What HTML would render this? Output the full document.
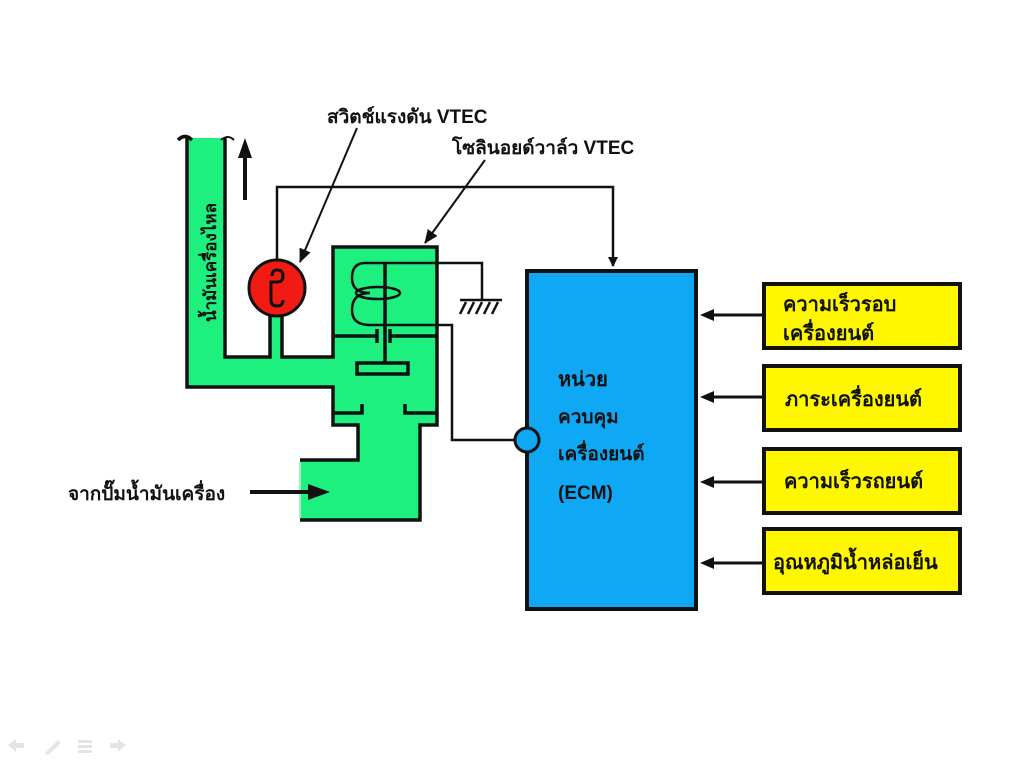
<!DOCTYPE html>
<html><head><meta charset="utf-8"><style>
html,body{margin:0;padding:0;background:#fff;}
svg{display:block;}
text{font-family:"Liberation Sans","DejaVu Sans",sans-serif;fill:#111;font-weight:bold;}
</style></head><body>
<svg width="1024" height="768" viewBox="0 0 1024 768" xmlns="http://www.w3.org/2000/svg">
<defs>
<marker id="ah" markerWidth="10" markerHeight="10" refX="9" refY="5" orient="auto" markerUnits="userSpaceOnUse"><path d="M0,0 L10,5 L0,10 z" fill="#111"/></marker>
<marker id="ah2" markerWidth="14" markerHeight="12" refX="13" refY="6" orient="auto" markerUnits="userSpaceOnUse"><path d="M0,0 L14,6 L0,12 z" fill="#111"/></marker>
</defs>
<path d="M187,138 L225,138 L225,357 L333,357 L333,247 L437,247 L437,425 L420,425 L420,520 L300,520 L300,460 L358,460 L358,425 L333,425 L333,387 L187,387 Z" fill="#1ef07f"/>
<rect x="270" y="300" width="12" height="60" fill="#1ef07f"/>
<g fill="none" stroke="#111" stroke-width="3.5">
<path d="M187,138 L187,387 L333,387 L333,425 L358,425 L358,460 L300,460"/>
<path d="M225,138 L225,357 L270,357 L270,312"/>
<path d="M282,312 L282,357 L333,357 L333,247 L437,247 L437,425 L420,425 L420,520 L300,520"/>
<path d="M178,140 Q185,133 192,140" />
<path d="M221,140 Q228,134 234,140" stroke-width="2"/>
<path d="M333,336 L377,336 M377,329 L377,343 M390,329 L390,343 M390,336 L437,336"/>
<path d="M385,263 L385,363"/>
<rect x="357" y="363" width="51" height="11"/>
<path d="M333,413 L362,413 L362,404 M405,404 L405,413 L437,413"/>
</g>
<g fill="none" stroke="#111" stroke-width="2.5">
<path d="M437,263 L365,263 Q352,263 352,278 Q352,293 370,293 Q352,293 352,310 Q352,325 370,325 L452,325 L452,440 L515,440"/>
<path d="M437,263 L482,263 L482,300"/>
<path d="M460,300 L502,300"/>
<path d="M466,302 L460,314 M474,302 L468,314 M482,302 L476,314 M490,302 L484,314 M498,302 L492,314"/>
<path d="M277,260 L277,187 L613,187 L613,266" marker-end="url(#ah)"/>
</g>
<ellipse cx="378" cy="293" rx="22" ry="6" fill="none" stroke="#111" stroke-width="2.5"/>
<path d="M300,462 L300,518" stroke="#9ef0c0" stroke-width="2"/>
<circle cx="277" cy="288" r="28" fill="#f21b14" stroke="#111" stroke-width="3"/>
<path d="M272,276 Q272,270 277,270 Q283,270 283,276 Q283,282 277,282 L271,282 L271,300 Q271,306 277,306 Q283,306 283,300" fill="none" stroke="#111" stroke-width="3"/>
<path d="M245,200 L245,150" stroke="#111" stroke-width="4"/>
<path d="M238,158 L245,138 L252,158 z" fill="#111"/>
<path d="M357,128 L300,262" stroke="#111" stroke-width="2" marker-end="url(#ah2)"/>
<path d="M485,160 L425,243" stroke="#111" stroke-width="2" marker-end="url(#ah2)"/>
<path d="M250,492 L315,492" stroke="#111" stroke-width="4"/>
<path d="M308,484 L330,492 L308,500 z" fill="#111"/>
<rect x="527" y="271" width="169" height="338" fill="#0ea8f5" stroke="#111" stroke-width="4"/>
<circle cx="527" cy="440" r="12" fill="#0ea8f5" stroke="#111" stroke-width="3"/>
<text x="558" y="386" font-size="20">หน่วย</text>
<text x="558" y="423" font-size="19">ควบคุม</text>
<text x="558" y="460" font-size="19">เครื่องยนต์</text>
<text x="558" y="499" font-size="19">(ECM)</text>
<g fill="#fff700" stroke="#111" stroke-width="4">
<rect x="764" y="284" width="196" height="64"/>
<rect x="764" y="366" width="196" height="64"/>
<rect x="764" y="449" width="196" height="64"/>
<rect x="764" y="529" width="196" height="64"/>
</g>
<g stroke="#111" stroke-width="3">
<path d="M762,315 L712,315 M762,397 L712,397 M762,482 L712,482 M762,563 L712,563"/>
</g>
<g fill="#111">
<path d="M700,315 L714,309 L714,321z"/><path d="M700,397 L714,391 L714,403z"/>
<path d="M700,482 L714,476 L714,488z"/><path d="M700,563 L714,557 L714,569z"/>
</g>
<text x="783" y="311" font-size="20">ความเร็วรอบ</text>
<text x="783" y="340" font-size="20">เครื่องยนต์</text>
<text x="785" y="406" font-size="20">ภาระเครื่องยนต์</text>
<text x="784" y="488" font-size="20">ความเร็วรถยนต์</text>
<text x="773" y="569" font-size="20">อุณหภูมิน้ำหล่อเย็น</text>
<text x="327" y="123" font-size="19">สวิตช์แรงดัน VTEC</text>
<text x="452" y="154" font-size="19">โซลินอยด์วาล์ว VTEC</text>
<text x="68" y="500" font-size="19">จากปั๊มน้ำมันเครื่อง</text>
<text transform="translate(216,322) rotate(-90)" font-size="17">น้ำมันเครื่องไหล</text>
<g fill="#e4e4e4">
<path d="M8,745 L16,739 L16,743 L24,743 L24,748 L16,748 L16,752z"/>
<path d="M45,753 L58,740 L61,743 L48,755z"/>
<rect x="78" y="740" width="14" height="3"/><rect x="78" y="745" width="14" height="3"/><rect x="78" y="750" width="14" height="3"/>
<path d="M126,745 L118,739 L118,743 L110,743 L110,748 L118,748 L118,752z"/>
</g>
</svg>
</body></html>
